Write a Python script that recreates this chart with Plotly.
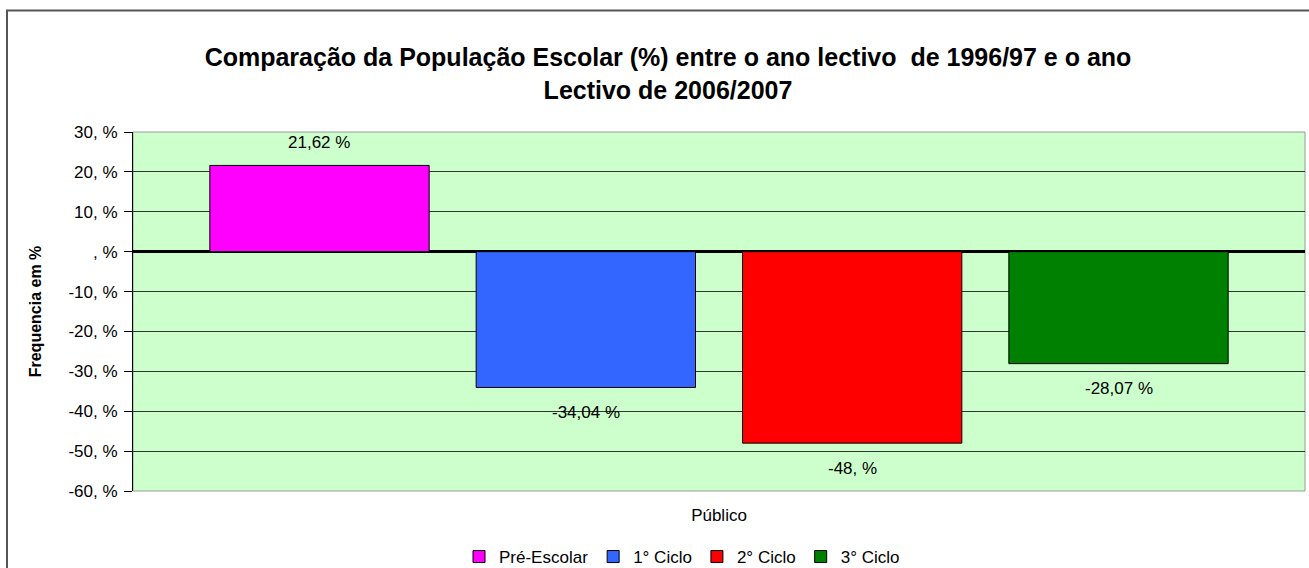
import plotly.graph_objects as go

# ---- data ----
categories = ["Público"]
series_names = ["Pré-Escolar", "1° Ciclo", "2° Ciclo", "3° Ciclo"]
series_values = [21.62, -34.04, -48.0, -28.07]
value_labels = ["21,62 %", "-34,04 %", "-48, %", "-28,07 %"]
series_colors = ["#FF00FF", "#3366FF", "#FF0000", "#008000"]
y_tick_values = [30, 20, 10, 0, -10, -20, -30, -40, -50, -60]
y_tick_labels = ["30, %", "20, %", "10, %", ", %", "-10, %", "-20, %", "-30, %", "-40, %", "-50, %", "-60, %"]

W, H = 1309, 568
ML, MR, MT, MB = 133, 4, 132, 77
PW, PH = W - ML - MR, H - MT - MB
BARGAP, BARGROUPGAP = 0.091, 0.1765
FONT = "Liberation Sans, Arial"

def px_to_paper_x(px):
    return (px - ML) / PW

def px_to_paper_y(py):
    return (H - MB - py) / PH

fig = go.Figure()
for name, val, col in zip(series_names, series_values, series_colors):
    fig.add_trace(go.Bar(
        name=name, x=categories, y=[val],
        marker=dict(color=col, line=dict(color="#000000", width=1)),
        hoverinfo="skip",
    ))

# data labels, centred on each grouped bar (category 0 split into len(series) slots)
n = len(series_names)
slot = (1 - BARGAP) / n
annotations = []
for i, (val, lab) in enumerate(zip(series_values, value_labels)):
    annotations.append(dict(
        x=(i - (n - 1) / 2) * slot, y=val, xref="x", yref="y",
        text=lab, showarrow=False, xanchor="center", yanchor="middle",
        yshift=23 if val >= 0 else -25,
        font=dict(family=FONT, size=17, color="#000000"),
    ))

fig.update_layout(
    width=W, height=H,
    margin=dict(l=ML, r=MR, t=MT, b=MB, autoexpand=False),
    paper_bgcolor="#FFFFFF", plot_bgcolor="#CCFFCC",
    barmode="group", bargap=BARGAP, bargroupgap=BARGROUPGAP,
    font=dict(family=FONT, color="#000000"),
    title=dict(
        text="Comparação da População Escolar (%) entre o ano lectivo  de 1996/97 e o ano<br>Lectivo de 2006/2007",
        x=668 / W, xanchor="center", xref="container",
        y=1 - 66 / H, yanchor="middle", yref="container",
        font=dict(family=FONT, size=25, color="#000000", weight="bold"),
    ),
    showlegend=True,
    legend=dict(
        orientation="h", x=px_to_paper_x(682), xanchor="center",
        y=px_to_paper_y(557), yanchor="middle",
        font=dict(size=17, color="#000000"), itemwidth=30,
        bgcolor="rgba(0,0,0,0)", traceorder="normal",
    ),
    annotations=annotations,
    xaxis=dict(
        showgrid=False, ticks="outside", ticklen=9, tickcolor="rgba(0,0,0,0)",
        tickfont=dict(size=17, color="#000000"), showline=False, zeroline=False,
        fixedrange=True,
    ),
    yaxis=dict(
        range=[-60, 30], tickvals=y_tick_values, ticktext=y_tick_labels,
        ticks="outside", ticklen=8, tickcolor="#000000", tickwidth=1,
        ticklabelstandoff=3,
        tickfont=dict(size=17, color="#000000"),
        showgrid=True, gridcolor="#333333", gridwidth=1,
        zeroline=True, zerolinecolor="#000000", zerolinewidth=2.5,
        showline=True, linecolor="#000000", linewidth=1,
        title=dict(text="<b>Frequencia em %</b>", font=dict(size=16, color="#000000"), standoff=22),
        fixedrange=True,
    ),
    shapes=[
        # plot area border
        dict(type="rect", xref="paper", yref="paper", x0=0, x1=1, y0=0, y1=1,
             line=dict(color="#9A9A9A", width=1), layer="below"),
        # outer chart frame
        dict(type="rect", xref="paper", yref="paper",
             x0=px_to_paper_x(7), x1=px_to_paper_x(1330),
             y0=px_to_paper_y(600), y1=px_to_paper_y(10.5),
             line=dict(color="#555555", width=2), layer="above"),
    ],
)

fig.write_html("out.html")
